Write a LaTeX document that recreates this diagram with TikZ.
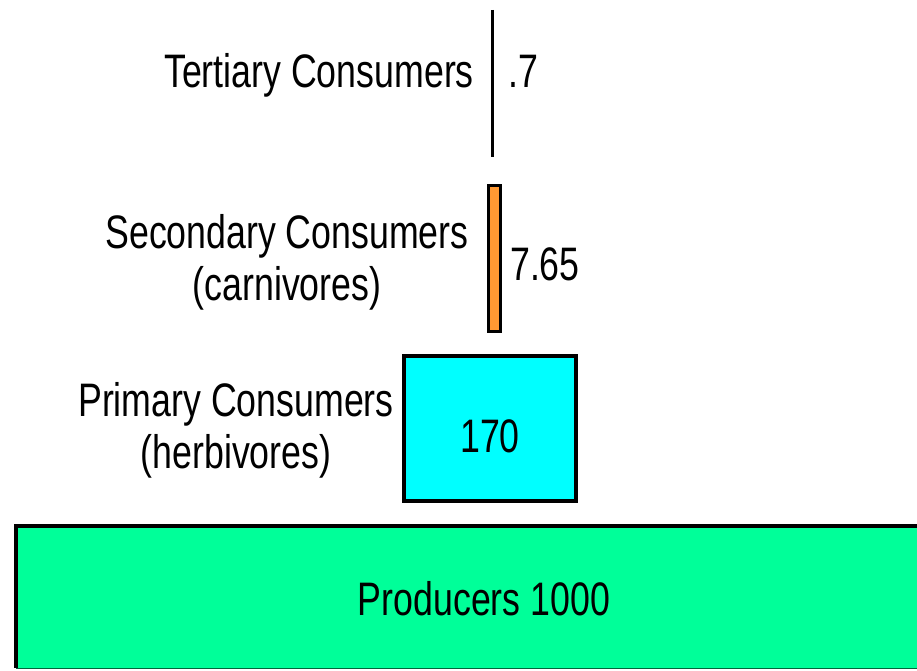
\documentclass[tikz,border=0pt]{standalone}
\usepackage{fontspec}
\setmainfont[FakeStretch=0.76]{Liberation Sans}
\definecolor{prodgreen}{HTML}{00FF99}
\definecolor{primcyan}{HTML}{00FFFF}
\definecolor{secorange}{HTML}{FF9933}
\tikzset{
  lbl/.style={inner sep=0pt, align=center, font=\fontsize{47}{52}\selectfont},
  bar/.style={draw=black, line width=3.5pt, inner sep=0pt}
}
\begin{document}
\begin{tikzpicture}[x=1pt,y=-1pt]
\useasboundingbox (0,0) rectangle (917,671);
\clip (0,0) rectangle (917,671);
% producers
\fill[prodgreen] (16,526) rectangle (930,668);
\draw[line width=3.5pt] (16,668) -- (16,526) -- (930,526);
\draw[line width=1pt, draw=black!60!prodgreen] (16,668) -- (930,668);
\node[lbl, anchor=base] (prod) at (484,615) {Producers 1000};
% primary
\node[bar, fill=primcyan, minimum width=172pt, minimum height=145pt] (prim) at (490,428.5) {};
\node[lbl, anchor=base] (primv) at (490,452) {170};
\node[lbl] (primlbl) at (236,430) {Primary Consumers\\(herbivores)};
% secondary
\node[bar, fill=secorange, minimum width=12pt, minimum height=146pt] (sec) at (494.5,258.5) {};
\node[lbl, anchor=base west] (secv) at (510,280) {7.65};
\node[lbl] (seclbl) at (287,262) {Secondary Consumers\\(carnivores)};
% tertiary
\coordinate (ttop) at (492,10);
\coordinate (tbot) at (492,157);
\draw[line width=3pt] (ttop) -- (tbot);
\node[lbl, anchor=base west] (terv) at (508,88) {.7};
\node[lbl, anchor=base] (terlbl) at (319,88) {Tertiary Consumers};
\end{tikzpicture}
\end{document}
